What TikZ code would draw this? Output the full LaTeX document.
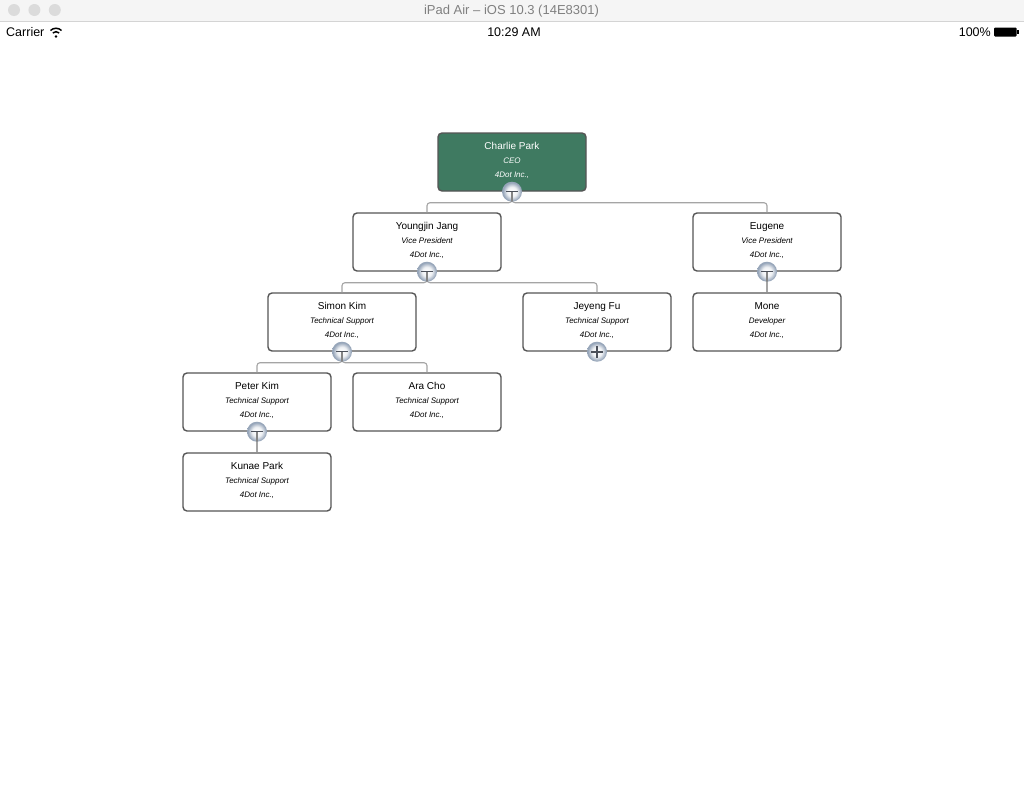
\documentclass[tikz,border=0pt]{standalone}
\usepackage{fontspec}
\setmainfont{Liberation Sans}
\usetikzlibrary{positioning}
\definecolor{orggreen}{RGB}{63,122,97}
\definecolor{orgborder}{RGB}{85,85,85}
\definecolor{orgline}{RGB}{165,165,165}
\definecolor{tglrim}{RGB}{150,165,185}
\definecolor{tglmark}{RGB}{75,80,90}
\pgfdeclareradialshading{tglball}{\pgfpoint{0bp}{0bp}}{color(0bp)=(white);
    color(12bp)=(white!85!tglrim); color(23bp)=(tglrim); color(50bp)=(tglrim)}
\newcommand{\orgtext}[3]{{\fontsize{10}{14}\selectfont #1}\\
    {\itshape #2}\\{\itshape #3\rule[-4pt]{0pt}{0pt}}}
\tikzset{
    orgbox/.style={draw=orgborder, line width=1.4pt, rounded corners=4pt, align=center,
        minimum width=148pt, minimum height=58pt, inner sep=0pt, fill=white, text=black,
        font=\fontsize{8}{14}\selectfont},
    orgroot/.style={orgbox, fill=orggreen, draw=orgborder, text=white},
    orgarrow/.style={draw=orgline, line width=1.1pt, rounded corners=3pt},
    orgtoggle/.style={circle, minimum size=20pt, inner sep=0pt, shading=tglball},
    orgminus/.style={orgtoggle, path picture={
        \draw[orgline!80!black, line width=1.2pt] (path picture bounding box.center) -- (path picture bounding box.south);
        \draw[tglmark, line width=1.3pt] ([xshift=-6pt]path picture bounding box.center) -- ([xshift=6pt]path picture bounding box.center);}},
    orgplus/.style={orgtoggle, path picture={
        \draw[tglmark, line width=2.2pt] ([xshift=-6pt]path picture bounding box.center) -- ([xshift=6pt]path picture bounding box.center);
        \draw[tglmark, line width=2.2pt] ([yshift=-6pt]path picture bounding box.center) -- ([yshift=6pt]path picture bounding box.center);}},
    barlight/.style={circle, minimum size=12pt, inner sep=0pt, fill=black!14},
    bartext/.style={inner sep=0pt, font=\fontsize{12.5}{14}\selectfont}
}
\begin{document}
\begin{tikzpicture}[x=1pt, y=-1pt, node distance=20.6pt]
    \useasboundingbox (0,0) rectangle (1024,790);
    \fill[white] (0,0) rectangle (1024,790);

    % simulator window and status bar
    \fill[black!4] (0,0) rectangle (1024,21);
    \draw[black!17, line width=1pt] (0,21.5) -- (1024,21.5);
    \node[barlight] (lighta) at (14,10) {};
    \node[barlight, right=8pt of lighta] (lightb) {};
    \node[barlight, right=8pt of lightb] (lightc) {};
    \node[bartext, text=black!50, font=\fontsize{13}{14}\selectfont] (title) at (511.5,11) {iPad Air – iOS 10.3 (14E8301)};
    \node[bartext, anchor=west] (carrier) at (6,32) {Carrier};
    \node[bartext] (clock) at (514,32) {10:29 AM};
    \node[bartext, anchor=east] (percent) at (991,32) {100\%};
    \draw[black, line width=1.5pt] (50.5,30.5) .. controls (53.5,27.5) and (58.5,27.5) .. (61.5,30.5);
    \draw[black, line width=1.5pt] (52.8,33) .. controls (54.5,31.2) and (57.5,31.2) .. (59.2,33);
    \fill[black] (56,36.5) circle (1.3);
    \fill[black, rounded corners=1pt] (994,27.5) rectangle (1016.5,36.5);
    \fill[black] (1017,30) rectangle (1018.5,34);

    % org chart boxes
    \node[orgroot] (charlie) at (512,162) {\orgtext{Charlie Park}{CEO}{4Dot Inc.,}};
    \node[orgbox, below=of charlie, xshift=-85pt] (youngjin) {\orgtext{Youngjin Jang}{Vice President}{4Dot Inc.,}};
    \node[orgbox, below=of charlie, xshift=255pt] (eugene) {\orgtext{Eugene}{Vice President}{4Dot Inc.,}};
    \node[orgbox, below=of youngjin, xshift=-85pt] (simon) {\orgtext{Simon Kim}{Technical Support}{4Dot Inc.,}};
    \node[orgbox, below=of youngjin, xshift=170pt] (jeyeng) {\orgtext{Jeyeng Fu}{Technical Support}{4Dot Inc.,}};
    \node[orgbox, below=of eugene] (mone) {\orgtext{Mone}{Developer}{4Dot Inc.,}};
    \node[orgbox, below=of simon, xshift=-85pt] (peter) {\orgtext{Peter Kim}{Technical Support}{4Dot Inc.,}};
    \node[orgbox, below=of simon, xshift=85pt] (ara) {\orgtext{Ara Cho}{Technical Support}{4Dot Inc.,}};
    \node[orgbox, below=of peter] (kunae) {\orgtext{Kunae Park}{Technical Support}{4Dot Inc.,}};

    % connectors
    \draw[orgarrow] (charlie.south) -- ++(0,11) -| (youngjin.north);
    \draw[orgarrow] (charlie.south) -- ++(0,11) -| (eugene.north);
    \draw[orgarrow] (youngjin.south) -- ++(0,11) -| (simon.north);
    \draw[orgarrow] (youngjin.south) -- ++(0,11) -| (jeyeng.north);
    \draw[orgarrow] (eugene) -- (mone);
    \draw[orgarrow] (simon.south) -- ++(0,11) -| (peter.north);
    \draw[orgarrow] (simon.south) -- ++(0,11) -| (ara.north);
    \draw[orgarrow] (peter) -- (kunae);

    % toggles on top
    \node[orgminus] (charlietgl) at (charlie.south) {};
    \node[orgminus] (youngjintgl) at (youngjin.south) {};
    \node[orgminus] (eugenetgl) at (eugene.south) {};
    \node[orgminus] (simontgl) at (simon.south) {};
    \node[orgplus] (jeyengtgl) at (jeyeng.south) {};
    \node[orgminus] (petertgl) at (peter.south) {};
\end{tikzpicture}
\end{document}
